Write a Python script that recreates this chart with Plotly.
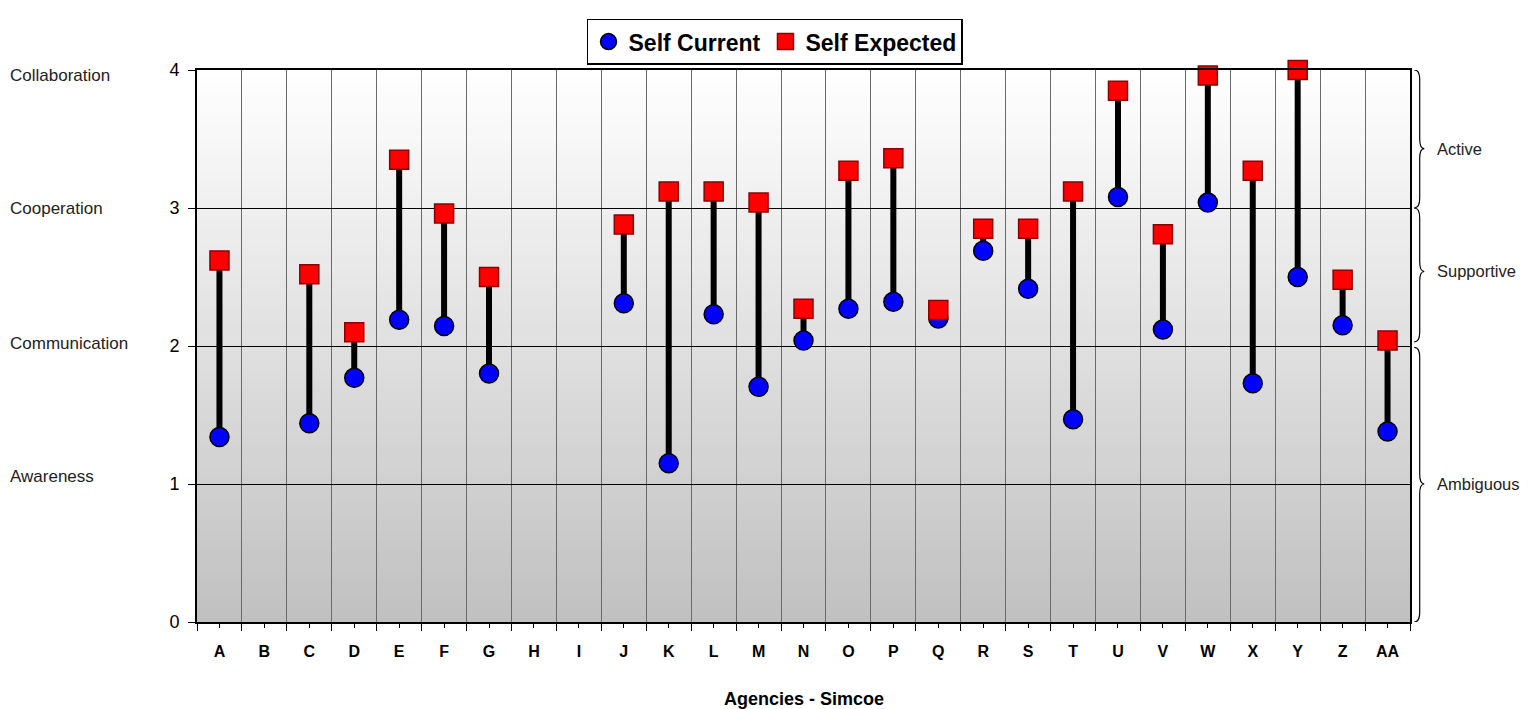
import plotly.graph_objects as go

categories = ["A", "B", "C", "D", "E", "F", "G", "H", "I", "J", "K", "L", "M", "N",
              "O", "P", "Q", "R", "S", "T", "U", "V", "W", "X", "Y", "Z", "AA"]
self_current = [1.34, None, 1.44, 1.77, 2.19, 2.145, 1.80, None, None, 2.31, 1.15, 2.23,
                1.705, 2.04, 2.27, 2.32, 2.20, 2.69, 2.415, 1.47, 3.08, 2.12, 3.04, 1.73,
                2.50, 2.15, 1.38]
self_expected = [2.62, None, 2.52, 2.10, 3.35, 2.96, 2.50, None, None, 2.88, 3.12, 3.12,
                 3.04, 2.27, 3.27, 3.36, 2.26, 2.85, 2.85, 3.12, 3.85, 2.81, 3.96, 3.27,
                 4.00, 2.48, 2.04]
y_ticks = [0, 1, 2, 3, 4]
level_labels = ["Awareness", "Communication", "Cooperation", "Collaboration"]
level_values = [1, 2, 3, 4]
level_shift = [8, 3, 0, -5]
bands = [("Active", 3.0, 4.0, 3.43), ("Supportive", 2.03, 3.0, 2.54), ("Ambiguous", 0.0, 1.99, 1.0)]
x_title = "Agencies - Simcoe"

FONT = "Arial, Liberation Sans, sans-serif"
xpos = list(range(1, len(categories) + 1))

# connecting lines
lx, ly = [], []
for x, c, e in zip(xpos, self_current, self_expected):
    if c is None or e is None:
        continue
    lx += [x, x, None]
    ly += [c, e, None]

fig = go.Figure()
fig.add_trace(go.Scatter(x=lx, y=ly, mode="lines", line=dict(color="black", width=6),
                         showlegend=False, hoverinfo="skip", cliponaxis=False))
fig.add_trace(go.Scatter(x=xpos, y=self_current, mode="markers", name="Self Current",
                         marker=dict(symbol="circle", size=19, color="#0000ff",
                                     line=dict(color="black", width=1.5)),
                         cliponaxis=False))
fig.add_trace(go.Scatter(x=xpos, y=self_expected, mode="markers", name="Self Expected",
                         marker=dict(symbol="square", size=19, color="#ff0000",
                                     line=dict(color="#8b0000", width=1.5)),
                         cliponaxis=False))

shapes = []
# gradient background
n = 80
for i in range(n):
    t = (i + 0.5) / n  # 0 bottom -> 1 top
    g = int(round(192 + 63 * t))
    shapes.append(dict(type="rect", xref="paper", yref="paper", x0=0, x1=1,
                       y0=i / n, y1=min(1.0, (i + 1) / n + 0.006), layer="below",
                       line=dict(width=0), fillcolor=f"rgb({g},{g},{g})"))

# braces
x0, x1, x2 = 1.0035, 1.0080, 1.0118
r = 0.07
for name, lo, hi, tip in bands:
    path = (f"M {x0},{hi} Q {x1},{hi} {x1},{hi - r} L {x1},{tip + r} "
            f"Q {x1},{tip} {x2},{tip} Q {x1},{tip} {x1},{tip - r} "
            f"L {x1},{lo + r} Q {x1},{lo} {x0},{lo}")
    shapes.append(dict(type="path", xref="paper", yref="y", path=path,
                       line=dict(color="black", width=1.2)))

annotations = []
for lab, v, s in zip(level_labels, level_values, level_shift):
    annotations.append(dict(text=lab, xref="paper", yref="y", x=-0.1557, y=v, yshift=s,
                            xanchor="left", yanchor="middle", showarrow=False,
                            font=dict(family=FONT, size=17, color="#222")))
for name, lo, hi, tip in bands:
    annotations.append(dict(text=name, xref="paper", yref="y", x=1.0205, y=tip,
                            xanchor="left", yanchor="middle", showarrow=False,
                            font=dict(family=FONT, size=16.5, color="#222")))
annotations.append(dict(text=x_title, xref="paper", yref="paper", x=0.5, y=0,
                        yshift=-77, xanchor="center", yanchor="middle", showarrow=False,
                        font=dict(family=FONT, size=18, weight="bold", color="black")))

fig.update_layout(
    width=1514, height=701,
    margin=dict(l=189, r=112, t=62, b=87, autoexpand=False),
    paper_bgcolor="white", plot_bgcolor="rgba(0,0,0,0)",
    font=dict(family=FONT, color="black"),
    shapes=shapes, annotations=annotations,
    legend=dict(orientation="h", x=0.4765, xanchor="center", y=1.093, yanchor="top",
                bgcolor="white", bordercolor="black", borderwidth=1.5,
                font=dict(family=FONT, size=23, weight="bold"), itemwidth=30,
                tracegroupgap=0),
    xaxis=dict(range=[0.5, len(categories) + 0.5], tickvals=xpos, ticktext=categories,
               showgrid=False, zeroline=False, showline=True, linecolor="black",
               linewidth=2, mirror=True, ticks="outside", ticklen=4, tickcolor="black",
               tickfont=dict(family=FONT, size=16, weight="bold"), ticklabelstandoff=10,
               minor=dict(tick0=0.5, dtick=1, showgrid=True, gridcolor="#6a6a6a",
                          gridwidth=1, ticks="outside", ticklen=7, tickcolor="black"),
               automargin=False),
    yaxis=dict(range=[0, 4], tickvals=y_ticks, showgrid=True, gridcolor="black",
               gridwidth=1, zeroline=False, showline=True, linecolor="black",
               linewidth=2, mirror=True, ticks="outside", ticklen=7, tickcolor="black",
               tickfont=dict(family=FONT, size=18), ticklabelstandoff=5,
               automargin=False),
)

fig.write_html("out.html")
